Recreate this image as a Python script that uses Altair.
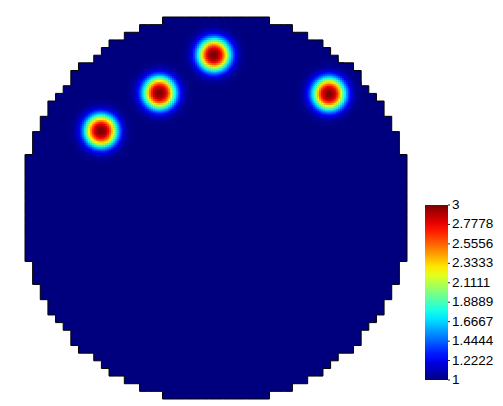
import numpy as np
import pandas as pd
import altair as alt

# ---- data (cell units, disk centre at 0,0, y up) ----
bump_x = [-15.05, -7.40, -0.26, 14.79]
bump_y = [10.08, 15.05, 20.03, 14.92]
bump_peak = [3.0, 3.0, 3.0, 3.0]
bump_width = [2.12, 2.12, 2.12, 2.12]
base_value = 1.0
grid_cells = 50
disk_radius_sq = 650.0
legend_ticks = [1, 1.2222, 1.4444, 1.6667, 1.8889, 2.1111, 2.3333, 2.5556, 2.7778, 3]
jet_domain = [1.0, 1.25, 1.5, 1.75, 2.0, 2.25, 2.5, 2.75, 3.0]
jet_colors = ["#00007f", "#0000ff", "#007fff", "#00ffff", "#7fff7f",
              "#ffff00", "#ff7f00", "#ff0000", "#7f0000"]


def field(x, y):
    v = base_value
    for bx, by, bp, bw in zip(bump_x, bump_y, bump_peak, bump_width):
        d = np.hypot(x - bx, y - by)
        v += (bp - base_value) * np.exp(-(d / bw) ** 2.5)
    return min(v, 3.0)


half = grid_cells / 2
inside = set()
for i in range(grid_cells):
    for j in range(grid_cells):
        cx = -half + 0.5 + i
        cy = -half + 0.5 + j
        if cx * cx + cy * cy <= disk_radius_sq:
            inside.add((i, j))

# background: one run per row, overlapping toward the centre to avoid seams
bg_rows = []
for j in range(grid_cells):
    cols = [i for i in range(grid_cells) if (i, j) in inside]
    if not cols:
        continue
    x0 = -half + min(cols)
    x1 = -half + max(cols) + 1
    y0 = -half + j
    y1 = y0 + 1
    if y0 >= 0:
        y0 -= 0.15
    else:
        y1 += 0.15
    bg_rows.append((x0, x1, y0, y1, base_value))
bg = pd.DataFrame(bg_rows, columns=["x", "x2", "y", "y2", "v"])

# fine cells around the bumps
rows = []
n = 4
s = 1.0 / n
for (i, j) in sorted(inside):
    cx = -half + 0.5 + i
    cy = -half + 0.5 + j
    near = min(np.hypot(cx - bx, cy - by) for bx, by in zip(bump_x, bump_y))
    if near >= 5.0:
        continue
    x0, y0 = cx - 0.5, cy - 0.5
    for a in range(n):
        for b in range(n):
            sx = x0 + a * s
            sy = y0 + b * s
            v = field(sx + s / 2, sy + s / 2)
            if v < 1.004:
                continue
            rows.append((sx, sx + s * 1.25, sy, sy + s * 1.25, v))
df = pd.DataFrame(rows, columns=["x", "x2", "y", "y2", "v"])

edges = []
for (i, j) in inside:
    x0 = -half + i
    y0 = -half + j
    if (i - 1, j) not in inside:
        edges.append((x0, x0, y0, y0 + 1))
    if (i + 1, j) not in inside:
        edges.append((x0 + 1, x0 + 1, y0, y0 + 1))
    if (i, j - 1) not in inside:
        edges.append((x0, x0 + 1, y0, y0))
    if (i, j + 1) not in inside:
        edges.append((x0, x0 + 1, y0 + 1, y0 + 1))
edf = pd.DataFrame(edges, columns=["x", "x2", "y", "y2"])

ticks_df = pd.DataFrame({"t": legend_ticks})

xs = alt.Scale(domain=[-half, half], nice=False, zero=False)
ys = alt.Scale(domain=[-half, half], nice=False, zero=False)
cscale = alt.Scale(domain=jet_domain, range=jet_colors, interpolate="rgb")
# colour-bar label scale: value 1 at the bar's bottom, 3 at its top
bar_scale = alt.Scale(domain=[1, 3], range=[363, 188], nice=False, zero=False)

legend = alt.Legend(
    type="gradient",
    title=None,
    orient="none",
    legendX=400,
    legendY=188,
    labelOpacity=0,
    labelExpr="''",
    gradientLength=175,
    gradientThickness=23,
    gradientStrokeWidth=0,
)

background = alt.Chart(bg).mark_rect().encode(
    x=alt.X("x:Q", scale=xs, axis=None),
    x2="x2:Q",
    y=alt.Y("y:Q", scale=ys, axis=None),
    y2="y2:Q",
    color=alt.Color("v:Q", scale=cscale, legend=legend),
)

bumps = alt.Chart(df).mark_rect().encode(
    x=alt.X("x:Q", scale=xs, axis=None),
    x2="x2:Q",
    y=alt.Y("y:Q", scale=ys, axis=None),
    y2="y2:Q",
    color=alt.Color("v:Q", scale=cscale, legend=legend),
)

outline = alt.Chart(edf).mark_rule(color="black", strokeWidth=1).encode(
    x=alt.X("x:Q", scale=xs, axis=None),
    x2="x2:Q",
    y=alt.Y("y:Q", scale=ys, axis=None),
    y2="y2:Q",
)

disk = alt.layer(background, bumps, outline)

bar_ticks = alt.Chart(ticks_df).mark_rule(color="#222222", strokeWidth=1).encode(
    y=alt.Y("t:Q", scale=bar_scale, axis=None),
    x=alt.value(423),
    x2=alt.value(425),
)

bar_labels = alt.Chart(ticks_df).mark_text(
    align="left", baseline="middle", font="Liberation Sans", fontSize=13.5, color="black"
).encode(
    y=alt.Y("t:Q", scale=bar_scale, axis=None),
    x=alt.value(427),
    text=alt.Text("t:Q", format=".5~g"),
)

chart = (
    alt.layer(disk, bar_ticks, bar_labels)
    .resolve_scale(y="independent")
    .properties(
        width=382,
        height=382,
        padding={"left": 17, "top": 9, "right": 88, "bottom": 5},
        autosize=alt.AutoSizeParams(type="none"),
        background="white",
    )
    .configure_view(stroke=None)
)

chart.save("out.html", embed_options={"renderer": "svg", "actions": False})
